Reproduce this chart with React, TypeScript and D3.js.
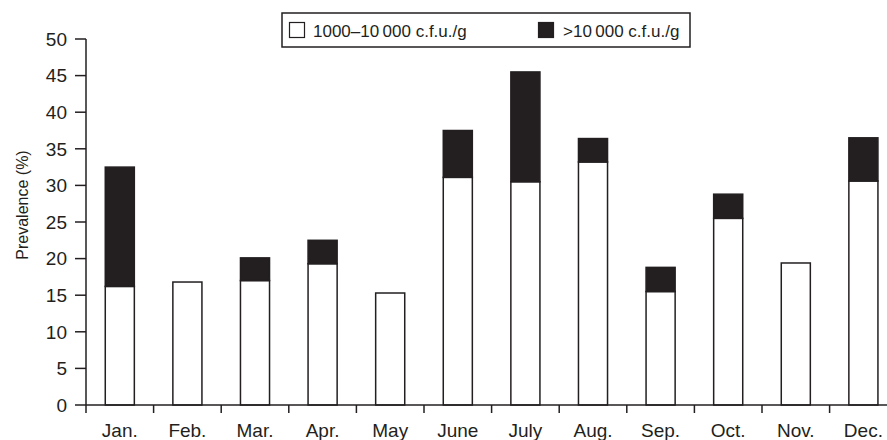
// App.tsx
import React from 'react'
import * as d3 from 'd3'

const months = ['Jan.', 'Feb.', 'Mar.', 'Apr.', 'May', 'June', 'July', 'Aug.', 'Sep.', 'Oct.', 'Nov.', 'Dec.']
// 1000-10 000 c.f.u./g
const lowValues = [16.2, 16.8, 17.0, 19.3, 15.3, 31.1, 30.5, 33.2, 15.5, 25.5, 19.4, 30.6]
// >10 000 c.f.u./g (stacked on top)
const highValues = [16.3, 0, 3.1, 3.2, 0, 6.4, 15.0, 3.2, 3.3, 3.3, 0, 5.9]
const yTicks = [0, 5, 10, 15, 20, 25, 30, 35, 40, 45, 50]
const legendLabels = ['1000–10\u2009000 c.f.u./g', '>10\u2009000 c.f.u./g']

const W = 887
const H = 440
const ink = '#231f20'
const font = '"Liberation Sans", Arial, sans-serif'

export default function App() {
  const left = 86
  const step = 67.6
  const x = d3.scaleBand<string>()
    .domain(months)
    .range([left, left + step * months.length])
    .paddingInner(0.57)
    .paddingOuter(0.285)
  const y = d3.scaleLinear().domain([0, 50]).range([405, 39])

  const boundaries = months.map((m, i) => left + i * x.step())

  return (
    <svg width={W} height={H} style={{ position: 'absolute', left: 0, top: 0 }} fontFamily={font}>
      <rect width={W} height={H} fill="#fff" />

      {/* bars */}
      {months.map((m, i) => {
        const lo = lowValues[i]
        const hi = highValues[i]
        return (
          <g key={m}>
            <rect x={x(m)} y={y(lo)} width={x.bandwidth()} height={y(0) - y(lo)}
              fill="#fff" stroke={ink} strokeWidth={1.5} />
            {hi > 0 && (
              <rect x={x(m)} y={y(lo + hi)} width={x.bandwidth()} height={y(lo) - y(lo + hi)}
                fill={ink} stroke={ink} strokeWidth={1.5} />
            )}
          </g>
        )
      })}

      {/* y axis */}
      <line x1={left} x2={left} y1={y(50)} y2={413} stroke={ink} strokeWidth={1.5} />
      {yTicks.map(t => (
        <g key={t}>
          <line x1={left - 11} x2={left} y1={y(t)} y2={y(t)} stroke={ink} strokeWidth={1.5} />
          <text x={67} y={y(t)} dy="0.36em" textAnchor="end" fontSize={19} fill={ink}>{t}</text>
        </g>
      ))}
      <text transform={`translate(22,${205}) rotate(-90)`} textAnchor="middle" dy="0.35em"
        fontSize={16} fill={ink}>Prevalence (%)</text>

      {/* x axis */}
      <line x1={left} x2={W} y1={y(0)} y2={y(0)} stroke={ink} strokeWidth={1.5} />
      {boundaries.slice(1).map((bx, i) => (
        <line key={i} x1={bx} x2={bx} y1={y(0)} y2={413} stroke={ink} strokeWidth={1.5} />
      ))}
      {months.map(m => (
        <text key={m} x={(x(m) ?? 0) + x.bandwidth() / 2} y={437} textAnchor="middle"
          fontSize={19} fill={ink}>{m}</text>
      ))}

      {/* legend */}
      <rect x={282} y={13} width={408} height={34} fill="#fff" stroke={ink} strokeWidth={1.5} />
      <rect x={289.5} y={22.5} width={15} height={15} fill="#fff" stroke={ink} strokeWidth={1.2} />
      <text x={313} y={37} fontSize={17} fill={ink}>{legendLabels[0]}</text>
      <rect x={538.5} y={22.5} width={15} height={15} fill={ink} stroke={ink} strokeWidth={1.2} />
      <text x={563} y={37} fontSize={17} fill={ink}>{legendLabels[1]}</text>
    </svg>
  )
}
